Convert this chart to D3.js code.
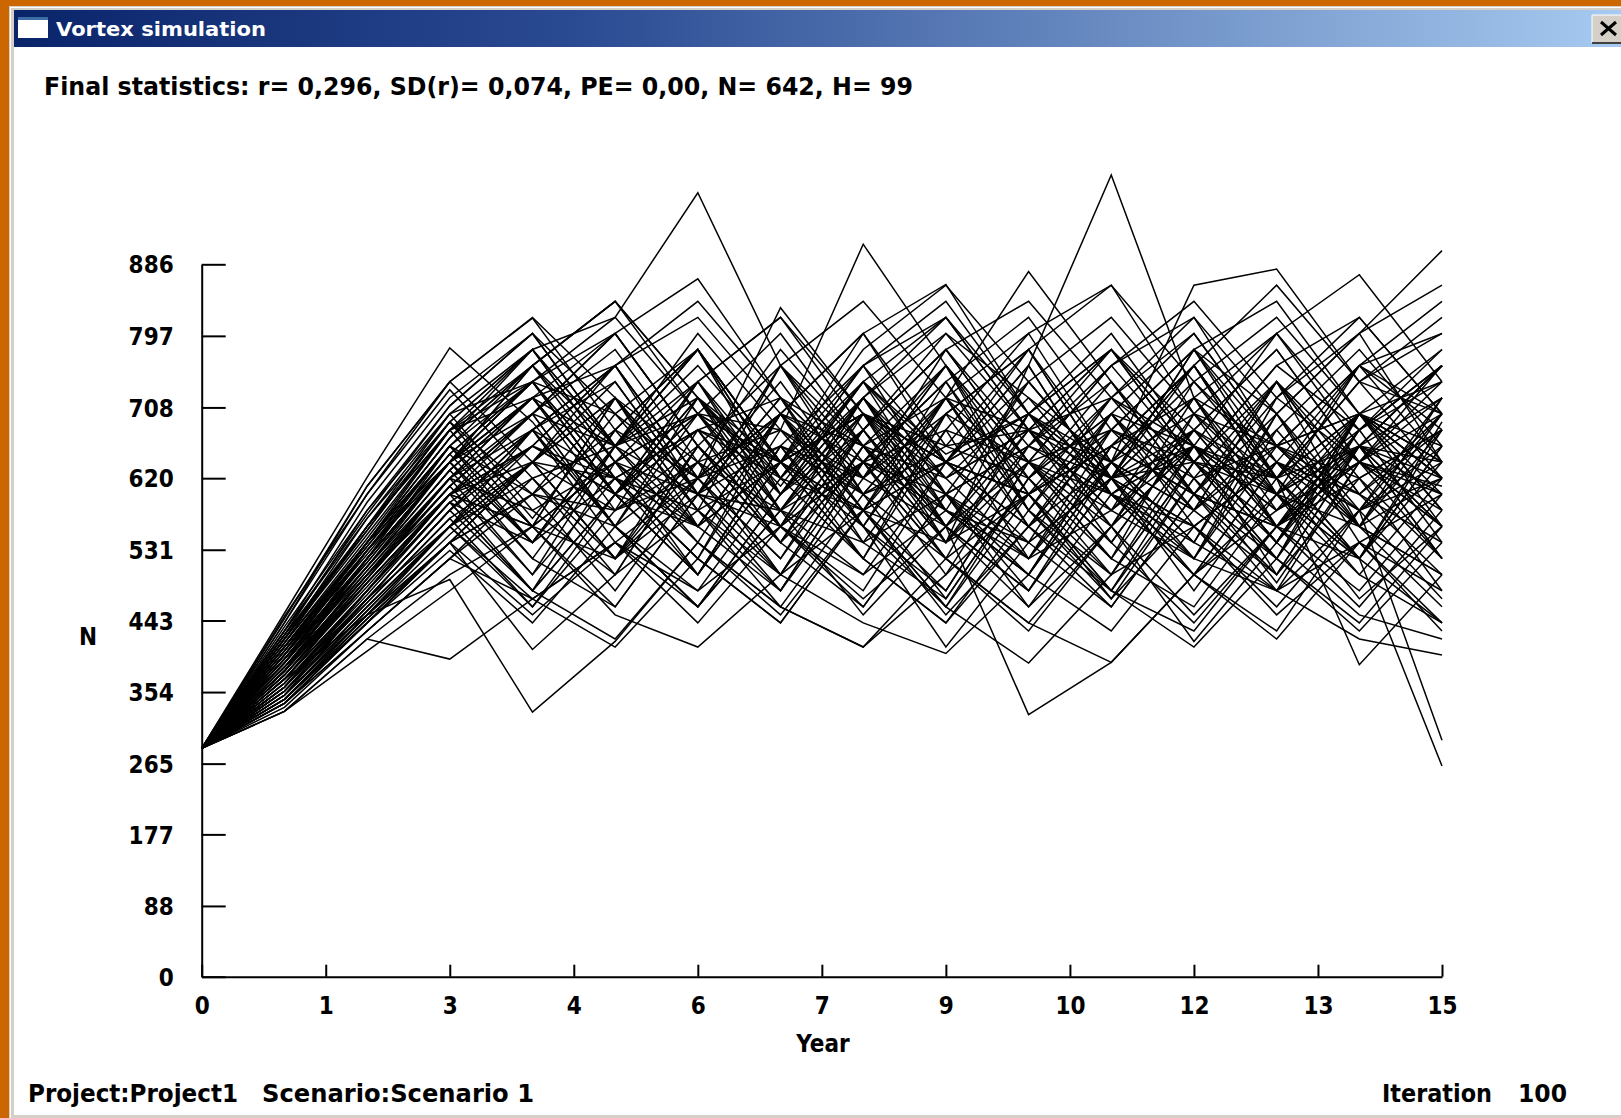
<!DOCTYPE html>
<html><head><meta charset="utf-8">
<script src="https://cdn.jsdelivr.net/npm/d3@7"></script>
<style>html,body{margin:0;padding:0;background:#cc6600;overflow:hidden}</style>
</head><body><svg id="c" width="1621" height="1118"></svg>
<script>
const years = [0,1,2,3,4,5,6,7,8,9,10,11,12,13,14,15];
const yTickLabels = [0,88,177,265,354,443,531,620,708,797,886];
const xTickValues = [0,1.5,3,4.5,6,7.5,9,10.5,12,13.5,15];
const xTickLabels = ["0","1","3","4","6","7","9","10","12","13","15"];
const titleText = "Vortex simulation";
const statsText = "Final statistics: r= 0,296, SD(r)= 0,074, PE= 0,00, N= 642, H= 99";
const projectText = "Project:Project1";
const scenarioText = "Scenario:Scenario 1";
const iterationLabel = "Iteration";
const iterationValue = "100";
const xTitle = "Year";
const yTitle = "N";

// population size per year for each of the 100 iterations
const iterations = [
[284,452,621,782,690,560,720,610,740,650,700,600,680,560,640,610],
[284,420,560,700,780,820,975,760,640,760,600,720,640,760,680,760],
[284,380,520,660,560,720,600,760,660,540,760,997,720,600,520,690],
[284,400,540,640,760,660,800,680,911,760,640,560,700,600,760,680],
[284,360,470,560,680,560,700,580,720,600,740,620,780,700,800,903],
[284,445,610,740,819,680,780,600,740,640,560,700,600,740,640,560],
[284,370,450,494,329,417,540,460,600,470,620,520,660,540,700,600],
[284,350,450,540,640,520,660,560,470,560,326,391,500,580,660,560],
[284,390,520,640,540,680,560,700,580,480,640,520,700,560,520,262],
[284,340,430,520,620,500,660,540,700,580,500,640,540,480,580,294],
[284,410,540,680,740,800,868,720,620,760,620,720,800,660,760,700],
[284,390,530,640,720,760,620,832,700,640,780,620,720,580,700,640],
[284,430,590,720,800,660,760,640,800,861,700,640,580,740,600,680],
[284,380,500,600,680,740,600,720,580,720,877,740,600,720,640,760],
[284,400,530,640,720,600,740,600,720,620,720,640,860,880,740,700],
[284,420,570,690,600,720,600,760,620,780,660,780,660,800,873,740],
[284,330,420,500,560,520,600,580,640,600,660,620,640,600,660,620],
[284,345,440,540,600,580,620,660,600,640,600,680,640,620,660,640],
[284,360,480,600,640,620,680,640,700,660,680,640,700,660,620,680],
[284,375,490,600,560,640,600,660,620,700,640,680,620,660,600,700],
[284,390,520,640,700,660,700,680,600,660,620,700,660,580,640,600],
[284,405,540,660,600,680,620,700,640,680,640,580,660,620,700,640],
[284,415,560,680,720,660,720,640,700,640,700,620,680,600,700,660],
[284,425,580,700,740,700,620,700,660,720,680,580,680,620,700,620],
[284,350,470,580,480,640,500,660,520,440,580,470,620,490,640,520],
[284,365,480,600,680,760,820,700,600,720,560,680,780,620,740,800],
[284,380,505,620,500,660,740,580,700,540,680,780,680,560,700,580],
[284,395,520,640,760,840,720,600,720,820,700,560,720,800,660,760],
[284,410,540,660,560,460,600,480,640,500,660,740,600,500,660,560],
[284,440,600,730,620,520,680,540,460,600,480,640,520,660,760,640],
[284,340,440,530,440,560,460,600,680,560,460,600,500,420,540,440],
[284,355,460,560,640,520,640,500,660,520,430,560,660,500,620,480],
[284,370,490,600,700,560,460,580,450,560,680,540,440,560,460,580],
[284,385,510,640,720,600,500,660,540,680,520,640,760,600,520,640],
[284,400,530,660,740,620,520,700,560,700,780,620,520,700,560,500],
[284,420,560,680,560,720,580,500,660,760,580,500,660,540,700,780],
[284,435,580,710,800,660,780,620,760,600,520,680,780,660,580,720],
[284,360,470,580,660,760,600,720,560,460,620,500,640,740,560,680],
[284,375,495,620,720,600,740,620,520,680,800,640,540,720,820,700],
[284,390,510,630,520,660,780,620,740,580,500,660,760,600,500,620],
[284,405,540,670,780,640,540,700,800,640,540,460,600,700,540,480],
[284,345,450,560,470,410,520,440,580,460,600,480,410,520,430,540],
[284,355,470,580,680,760,620,520,680,780,640,540,680,780,640,560],
[284,370,480,600,480,600,720,560,480,640,760,600,500,640,520,440],
[284,385,500,620,700,800,660,560,720,580,500,640,760,620,740,820],
[284,400,520,640,740,600,500,660,760,840,700,600,540,700,800,640],
[284,415,545,680,780,640,560,480,640,740,580,720,820,660,560,500],
[284,430,570,700,580,500,660,760,600,520,700,800,660,540,700,580],
[284,448,600,740,820,720,640,780,660,580,740,620,780,840,700,620],
[284,350,450,550,640,720,560,700,580,740,820,680,580,500,660,760],
[284,365,475,590,480,420,540,450,580,460,390,500,560,450,540,430],
[284,380,500,610,700,560,480,620,720,560,480,620,500,430,580,640],
[284,395,520,640,520,460,600,700,540,470,620,700,560,480,640,720],
[284,410,540,670,760,640,740,820,700,600,540,700,580,740,620,520],
[284,425,560,690,570,700,780,640,560,720,800,860,700,620,760,840],
[284,340,440,540,600,560,640,680,620,560,640,600,560,640,580,660],
[284,355,460,560,620,660,600,560,640,580,540,620,660,600,560,620],
[284,370,480,590,540,620,580,640,580,540,600,660,600,560,620,680],
[284,385,500,620,720,800,660,560,720,800,680,580,740,820,700,620],
[284,400,515,640,540,660,540,460,410,520,600,480,430,560,660,520],
[284,360,480,590,660,600,680,620,580,640,700,620,560,640,600,540],
[284,375,490,600,560,640,700,640,700,640,600,660,600,560,640,700],
[284,390,510,630,720,600,700,800,660,560,700,780,640,560,680,760],
[284,405,530,650,740,620,520,680,560,410,540,620,480,620,500,440],
[284,420,550,680,760,840,720,620,760,640,740,820,700,800,680,780],
[284,335,430,520,600,480,620,700,560,480,640,520,460,600,680,540],
[284,350,455,560,460,600,680,560,460,600,460,560,660,540,450,420],
[284,365,470,580,680,540,460,600,700,560,480,620,720,560,480,600],
[284,380,495,610,700,780,640,540,680,560,700,780,640,540,680,760],
[284,395,510,630,720,580,740,820,680,800,720,600,520,680,780,660],
[284,410,535,660,540,680,780,640,520,700,560,480,640,520,680,740],
[284,430,575,710,800,700,580,760,840,720,620,740,620,520,700,560],
[284,345,445,540,450,540,620,500,440,402,500,430,560,460,580,470],
[284,360,465,570,640,740,600,500,640,740,600,500,640,760,820,700],
[284,375,485,600,660,600,560,640,700,620,680,620,560,640,580,620],
[284,390,505,620,580,640,700,640,580,640,600,660,720,660,700,640],
[284,405,525,650,740,820,700,580,720,600,500,660,760,620,520,660],
[284,420,555,690,780,660,560,700,800,660,780,860,740,640,560,720],
[284,340,430,520,470,540,480,560,500,580,520,580,520,480,540,600],
[284,355,460,560,640,580,640,580,540,600,660,600,660,580,640,580],
[284,370,480,590,480,600,700,560,680,780,640,540,680,780,640,740],
[284,385,500,610,500,620,500,640,740,820,680,780,660,540,700,580],
[284,400,520,640,740,600,720,580,500,640,760,600,500,640,760,800],
[284,415,540,670,760,840,700,600,740,620,520,660,760,620,520,680],
[284,330,420,395,470,540,440,560,640,520,440,560,450,560,660,520],
[284,345,440,540,640,720,580,480,620,720,580,700,800,660,560,700],
[284,360,465,570,460,580,660,540,640,520,440,391,500,600,470,560],
[284,380,490,600,660,620,680,720,660,620,680,720,660,600,660,600],
[284,395,510,620,680,620,560,640,700,640,560,640,580,660,700,740],
[284,410,530,650,540,680,780,640,520,440,560,680,780,640,520,660],
[284,425,555,690,780,660,780,640,780,860,740,620,760,860,740,620],
[284,350,450,540,407,500,580,460,410,500,600,470,580,680,560,460],
[284,365,470,580,680,560,460,580,680,540,660,760,640,520,440,560],
[284,380,495,610,700,800,660,540,680,780,840,720,600,520,660,760],
[284,395,515,640,740,600,500,640,760,820,680,560,417,540,660,720],
[284,410,535,660,760,620,520,440,580,700,780,640,740,620,388,500],
[284,330,405,480,560,450,410,500,580,450,560,460,600,480,420,400],
[284,440,610,740,640,760,840,720,620,760,640,760,840,720,800,860],
[284,345,445,540,640,520,620,740,600,720,580,480,620,740,600,500],
[284,355,455,560,660,760,620,520,660,540,640,760,820,700,580,700]
];

const svg = d3.select("#c");
const FONT = "'DejaVu Sans', 'Liberation Sans', sans-serif";

// ---- window chrome ----
const defs = svg.append("defs");
const g1 = defs.append("linearGradient").attr("id","tb").attr("x1","0").attr("x2","1").attr("y1","0").attr("y2","0");
g1.append("stop").attr("offset","0").attr("stop-color","#0a246a");
g1.append("stop").attr("offset","0.35").attr("stop-color","#2a4a92");
g1.append("stop").attr("offset","1").attr("stop-color","#a6caf0");

svg.append("rect").attr("x",0).attr("y",0).attr("width",1621).attr("height",1118).attr("fill","#cc6600");
svg.append("rect").attr("x",9).attr("y",6).attr("width",1612).attr("height",1112).attr("fill","#d4d0c8");
svg.append("rect").attr("x",10).attr("y",7).attr("width",1611).attr("height",1).attr("fill","#ffffff");
svg.append("rect").attr("x",10).attr("y",7).attr("width",1).attr("height",1111).attr("fill","#ffffff");
svg.append("rect").attr("x",14).attr("y",10).attr("width",1607).attr("height",37).attr("fill","url(#tb)");
svg.append("rect").attr("x",14).attr("y",47).attr("width",1607).attr("height",1068).attr("fill","#ffffff");

// title icon
svg.append("rect").attr("x",18).attr("y",17).attr("width",30).attr("height",21).attr("fill","#ffffff");
svg.append("rect").attr("x",18).attr("y",17).attr("width",30).attr("height",3).attr("fill","#3a6ea5");
svg.append("text").attr("x",56).attr("y",36).attr("fill","#ffffff")
  .attr("font-family",FONT).attr("font-weight","bold").attr("font-size",19)
  .attr("textLength",210).attr("lengthAdjust","spacingAndGlyphs").text(titleText);

// close button
svg.append("rect").attr("x",1592).attr("y",15).attr("width",32).attr("height",28).attr("fill","#d4d0c8");
svg.append("path").attr("d","M1592,43V15H1624").attr("fill","none").attr("stroke","#ffffff").attr("stroke-width",1);
svg.append("path").attr("d","M1592,43H1624").attr("fill","none").attr("stroke","#404040").attr("stroke-width",2);
svg.append("path").attr("d","M1601,22L1616,35M1616,22L1601,35").attr("stroke","#000").attr("stroke-width",3);

// ---- texts ----
function label(txt, xPos, yPos, len){
  return svg.append("text").attr("x",xPos).attr("y",yPos).attr("fill","#000")
    .attr("font-family",FONT).attr("font-weight","bold").attr("font-size",24)
    .attr("textLength",len).attr("lengthAdjust","spacingAndGlyphs").text(txt);
}
label(statsText, 44, 95, 869);
label(projectText, 28, 1102, 210);
label(scenarioText, 262, 1102, 272);
label(iterationLabel, 1382, 1102, 110);
label(iterationValue, 1518, 1102, 49);

// ---- chart ----
const x = d3.scaleLinear().domain([0,15]).range([201.7,1442]);
const y = d3.scaleLinear().domain([0,886]).range([976.7,264.3]);

const line = d3.line().x((d,i)=>x(years[i])).y(d=>y(d));
svg.append("g").selectAll("path").data(iterations).join("path")
  .attr("d", line).attr("fill","none").attr("stroke","#000").attr("stroke-width",1.5)
  .attr("stroke-linejoin","miter");

const yAxis = d3.axisLeft(y).tickValues(yTickLabels).tickFormat(d=>String(d))
  .tickSize(-24).tickSizeOuter(0).tickPadding(28);
const ya = svg.append("g").attr("transform","translate(201.7,0)").call(yAxis);
const xAxis = d3.axisBottom(x).tickValues(xTickValues).tickFormat((d,i)=>xTickLabels[i])
  .tickSize(-12).tickSizeOuter(0).tickPadding(21);
const xa = svg.append("g").attr("transform","translate(0,976.7)").call(xAxis);
[ya,xa].forEach(a=>{
  a.select(".domain").attr("stroke","#000").attr("stroke-width",2);
  a.selectAll(".tick line").attr("stroke","#000").attr("stroke-width",2);
  a.selectAll(".tick text").attr("fill","#000").attr("font-family",FONT)
    .attr("font-weight","bold").attr("font-size",24).attr("font-stretch","condensed");
});
ya.selectAll(".tick text").attr("dy","0.36em");
xa.selectAll(".tick text").attr("dy","0.68em");

svg.append("text").attr("x",823).attr("y",1052).attr("text-anchor","middle").attr("fill","#000")
  .attr("font-family",FONT).attr("font-weight","bold").attr("font-size",24).attr("font-stretch","condensed").text(xTitle);
svg.append("text").attr("x",88).attr("y",645).attr("text-anchor","middle").attr("fill","#000")
  .attr("font-family",FONT).attr("font-weight","bold").attr("font-size",24).attr("font-stretch","condensed").text(yTitle);
</script></body></html>
